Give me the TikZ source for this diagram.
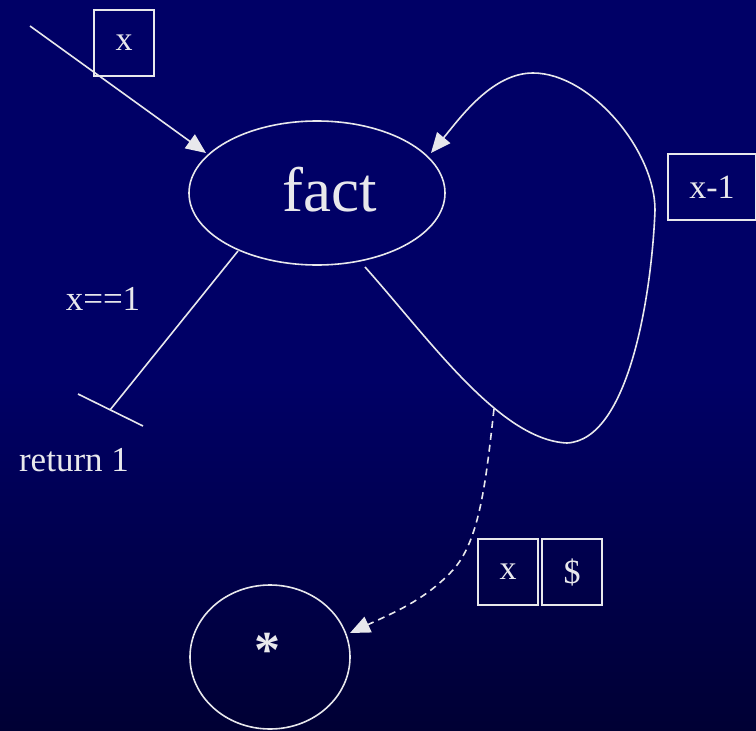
\documentclass[tikz,border=0pt]{standalone}
\usepackage{fontspec}
\setmainfont{Liberation Serif}
\usetikzlibrary{arrows.meta,shapes.geometric}
\definecolor{fg}{RGB}{232,232,236}
\definecolor{bgtop}{RGB}{0,0,102}
\definecolor{bgbot}{RGB}{0,0,52}
\begin{document}
\begin{tikzpicture}[x=1pt,y=-1pt,
  line/.style={draw=fg,line width=1.6pt},
  tip/.style={-{Triangle[length=20pt,width=17pt]}},
  lbl/.style={text=fg,font=\fontsize{35}{38}\selectfont,inner sep=0pt},
  valbox/.style={draw=fg,line width=1.6pt,minimum width=60pt,minimum height=66pt,inner sep=0pt,text=fg,font=\fontsize{34}{36}\selectfont}]
\fill[bgtop] (0,0) rectangle (756,731);
\shade[top color=bgtop,bottom color=bgbot] (0,380) rectangle (756,731);
\useasboundingbox (0,0) rectangle (756,731);
% nodes
\node[ellipse,line,minimum width=256pt,minimum height=144pt,inner sep=0pt] (fact) at (317,193) {};
\node[text=fg,font=\fontsize{63}{66}\selectfont,inner sep=0pt] (facttext) at (330,190) {fact};
\node[valbox] (xin) at (124,43) {x};
\node[valbox,minimum width=88pt] (xm1) at (712,187) {x-1};
\node[valbox] (xa) at (508,572) {x};
\node[valbox] (dol) at (572,572) {\$};
\node[ellipse,line,minimum width=160pt,minimum height=144pt,inner sep=0pt] (star) at (270,657) {};
\node[text=fg,font=\fontsize{52}{54}\selectfont\bfseries,inner sep=0pt] (startext) at (267,650) {*};
\node[lbl] (cond) at (103,299) {x==1};
\node[lbl] (ret) at (74,460) {return 1};
% coordinates
\coordinate (src) at (30,26);
\coordinate (intip) at (206,153);
\coordinate (cstart) at (238,251);
\coordinate (cend) at (110,410);
\coordinate (ta) at (78,394);
\coordinate (tb) at (143,426);
\coordinate (lstart) at (365,267);
\coordinate (ltip) at (431,153);
\coordinate (dstart) at (494,409);
\coordinate (dtip) at (350,633);
% connectors
\draw[line,tip] (src) -- (intip);
\draw[line] (cstart) -- (cend);
\draw[line] (ta) -- (tb);
\draw[line,tip] (lstart) .. controls (430,340) and (500,440) .. (567,443)
  .. controls (630,440) and (652,290) .. (655,210)
  .. controls (655,150) and (590,73) .. (533,73)
  .. controls (492,73) and (460,118) .. (ltip);
\draw[line,dashed,dash pattern=on 7pt off 5pt,tip] (dstart) .. controls (486,480) and (480,540) .. (453,570) .. controls (425,600) and (395,612) .. (dtip);
\end{tikzpicture}
\end{document}
